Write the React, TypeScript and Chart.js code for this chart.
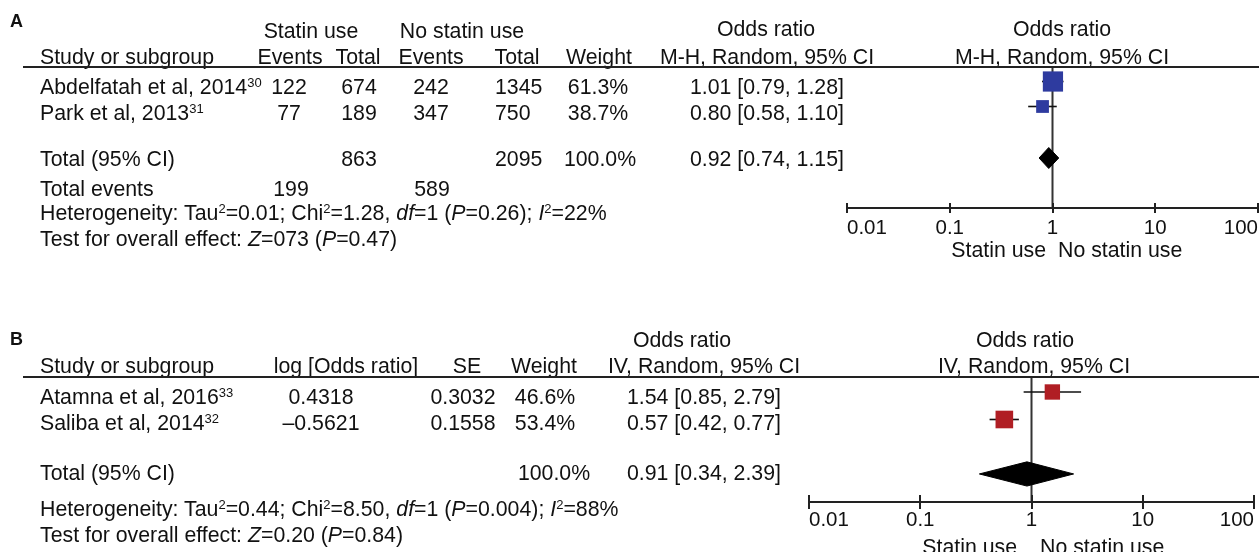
import React, { useEffect, useRef } from "react";
import { Chart, registerables } from "chart.js";

Chart.register(...registerables);

// ---------- Panel A data ----------
const studiesA = ["Abdelfatah et al, 2014", "Park et al, 2013"];
const refsA = ["30", "31"];
const statinEventsA = [122, 77];
const statinTotalA = [674, 189];
const noStatinEventsA = [242, 347];
const noStatinTotalA = [1345, 750];
const weightsA = [61.3, 38.7];
const oddsA = [1.01, 0.8];
const lowA = [0.79, 0.58];
const highA = [1.28, 1.1];
const totalA = [0.92, 0.74, 1.15]; // OR, lower, upper
const totalCountsA = [863, 2095];
const totalEventsA = [199, 589];
const totalWeightA = 100.0;

// ---------- Panel B data ----------
const studiesB = ["Atamna et al, 2016", "Saliba et al, 2014"];
const refsB = ["33", "32"];
const logOddsB = ["0.4318", "\u20130.5621"];
const seB = ["0.3032", "0.1558"];
const weightsB = [46.6, 53.4];
const oddsB = [1.54, 0.57];
const lowB = [0.85, 0.42];
const highB = [2.79, 0.77];
const totalB = [0.91, 0.34, 2.39];
const totalWeightB = 100.0;

// ---------- axis ----------
const axisTicks = [0.01, 0.1, 1, 10, 100];
const tickLabels = ["0.01", "0.1", "1", "10", "100"];

const FONT = '"Liberation Sans", Arial, Helvetica, sans-serif';
const INK = "#111";
const FS = 21.3;

const fmtOR = (o: number, l: number, h: number) =>
  `${o.toFixed(2)} [${l.toFixed(2)}, ${h.toFixed(2)}]`;
const fmtW = (w: number) => `${w.toFixed(1)}%`;

function T({ x, y, a = "l", children, size = FS, bold = false }: any) {
  const style: any = {
    position: "absolute",
    whiteSpace: "nowrap",
    fontFamily: FONT,
    fontSize: size,
    lineHeight: size + "px",
    color: INK,
    top: y - size * 0.49,
    fontWeight: bold ? "bold" : "normal",
  };
  if (a === "l") style.left = x;
  else if (a === "c") {
    style.left = x - 300;
    style.width = 600;
    style.textAlign = "center";
  } else {
    style.left = x - 600;
    style.width = 600;
    style.textAlign = "right";
  }
  return <div style={style}>{children}</div>;
}

const Sup = ({ children }: any) => (
  <span style={{ fontSize: 13, position: "relative", top: -7, lineHeight: "13px" }}>{children}</span>
);

const tickMarks = {
  id: "tickMarks",
  afterDatasetsDraw(chart: any, _args: any, opts: any) {
    const s = chart.scales.x;
    const ctx = chart.ctx;
    const y = s.top;
    ctx.save();
    ctx.strokeStyle = "#222";
    ctx.lineWidth = 2;
    s.ticks.forEach((t: any) => {
      const px = Math.round(s.getPixelForValue(t.value));
      ctx.beginPath();
      ctx.moveTo(px, y - opts.half);
      ctx.lineTo(px, y + opts.half);
      ctx.stroke();
    });
    ctx.restore();
  },
};

function Forest(p: any) {
  const ref = useRef<HTMLCanvasElement>(null);
  useEffect(() => {
    const W = 1320;
    const scaleH = 40;
    const datasets: any[] = [];
    datasets.push({
      data: p.odds.map((v: number, i: number) => ({ x: v, y: i })),
      pointStyle: "rect",
      pointRadius: p.weights.map((w: number) => (w * 0.33) / Math.SQRT2),
      pointBackgroundColor: p.color,
      backgroundColor: p.color,
      pointBorderWidth: 0,
      borderWidth: 0,
      showLine: false,
      order: 0,
    });
    p.odds.forEach((_: number, i: number) =>
      datasets.push({
        data: [
          { x: p.low[i], y: i },
          { x: p.high[i], y: i },
        ],
        showLine: true,
        borderColor: "#111",
        borderWidth: 1.6,
        pointRadius: 0,
        order: 2,
      })
    );
    datasets.push({
      data: [
        { x: 1, y: p.yMin },
        { x: 1, y: p.yMax },
      ],
      showLine: true,
      borderColor: "#333",
      borderWidth: 2,
      pointRadius: 0,
      order: 3,
    });
    const t = p.total;
    const tp = p.totalPos;
    const dh = p.diamondHalf;
    datasets.push({
      data: [
        { x: t[1], y: tp },
        { x: t[0], y: tp - dh },
        { x: t[2], y: tp },
        { x: t[0], y: tp + dh },
        { x: t[1], y: tp },
      ],
      showLine: true,
      fill: "shape",
      backgroundColor: "#000",
      borderColor: "#000",
      borderWidth: 1,
      pointRadius: 0,
      order: 1,
    });

    const chart = new Chart(ref.current as HTMLCanvasElement, {
      type: "scatter",
      data: { datasets },
      options: {
        animation: false,
        responsive: false,
        events: [],
        layout: {
          padding: {
            left: p.left,
            right: W - p.right,
            top: p.areaTop - p.top,
            bottom: p.height - (p.axisY - p.top) - scaleH,
          },
        },
        plugins: {
          legend: { display: false },
          tooltip: { enabled: false },
          tickMarks: { half: p.tickHalf },
        } as any,
        scales: {
          x: {
            type: "logarithmic",
            min: axisTicks[0],
            max: axisTicks[axisTicks.length - 1],
            position: "bottom",
            afterBuildTicks: (s: any) => {
              s.ticks = axisTicks.map((v) => ({ value: v }));
            },
            afterFit: (s: any) => {
              s.height = scaleH;
            },
            grid: { display: false, drawTicks: false },
            border: { display: true, color: "#222", width: 2 },
            ticks: {
              align: "inner",
              padding: p.tickPad,
              color: INK,
              autoSkip: false,
              maxRotation: 0,
              font: { family: FONT, size: 20.5 },
              callback: (v: any) => tickLabels[axisTicks.indexOf(Number(v))],
            },
          } as any,
          y: { type: "linear", display: false, reverse: true, min: p.yMin, max: p.yMax },
        },
      },
      plugins: [tickMarks],
    });
    return () => chart.destroy();
  }, []);
  return (
    <canvas
      ref={ref}
      width={1320}
      height={p.height}
      style={{ position: "absolute", left: 0, top: p.top, width: 1320, height: p.height, display: "block" }}
    />
  );
}

export default function App() {
  const line = (y: number) => (
    <div style={{ position: "absolute", left: 23, top: y, width: 1240, height: 2, background: "#222" }} />
  );
  const rowsA = [87, 113];
  const rowsB = [397, 423];
  return (
    <div
      style={{
        position: "absolute",
        left: 0,
        top: 0,
        width: 1259,
        height: 552,
        overflow: "hidden",
        background: "#fff",
        fontFamily: FONT,
      }}
    >
      <Forest
        top={0}
        height={280}
        left={847}
        right={1258}
        areaTop={67}
        axisY={208}
        yMin={-0.58}
        yMax={5.06}
        totalPos={3.06}
        diamondHalf={0.42}
        tickHalf={5}
        tickPad={8}
        color="#2e3b9f"
        odds={oddsA}
        low={lowA}
        high={highA}
        weights={weightsA}
        total={totalA}
      />
      <Forest
        top={290}
        height={262}
        left={809}
        right={1254}
        areaTop={377}
        axisY={502}
        yMin={-0.545}
        yMax={4.0}
        totalPos={2.98}
        diamondHalf={0.44}
        tickHalf={7}
        tickPad={6}
        color="#b01e24"
        odds={oddsB}
        low={lowB}
        high={highB}
        weights={weightsB}
        total={totalB}
      />

      {/* ---------------- Panel A ---------------- */}
      <T x={10} y={21} size={18} bold>A</T>
      <T x={311} y={31} a="c">Statin use</T>
      <T x={462} y={31} a="c">No statin use</T>
      <T x={766} y={29} a="c">Odds ratio</T>
      <T x={1062} y={29} a="c">Odds ratio</T>

      <T x={40} y={57}>Study or subgroup</T>
      <T x={290} y={57} a="c">Events</T>
      <T x={358} y={57} a="c">Total</T>
      <T x={431} y={57} a="c">Events</T>
      <T x={517} y={57} a="c">Total</T>
      <T x={599} y={57} a="c">Weight</T>
      <T x={767} y={57} a="c">M-H, Random, 95% CI</T>
      <T x={1062} y={57} a="c">M-H, Random, 95% CI</T>
      {line(66)}

      {studiesA.map((s, i) => (
        <React.Fragment key={s}>
          <T x={40} y={rowsA[i]}>
            {s}
            <Sup>{refsA[i]}</Sup>
          </T>
          <T x={289} y={rowsA[i]} a="c">{statinEventsA[i]}</T>
          <T x={359} y={rowsA[i]} a="c">{statinTotalA[i]}</T>
          <T x={431} y={rowsA[i]} a="c">{noStatinEventsA[i]}</T>
          <T x={495} y={rowsA[i]}>{noStatinTotalA[i]}</T>
          <T x={598} y={rowsA[i]} a="c">{fmtW(weightsA[i])}</T>
          <T x={690} y={rowsA[i]}>{fmtOR(oddsA[i], lowA[i], highA[i])}</T>
        </React.Fragment>
      ))}

      <T x={40} y={159}>Total (95% CI)</T>
      <T x={359} y={159} a="c">{totalCountsA[0]}</T>
      <T x={495} y={159}>{totalCountsA[1]}</T>
      <T x={600} y={159} a="c">{fmtW(totalWeightA)}</T>
      <T x={690} y={159}>{fmtOR(totalA[0], totalA[1], totalA[2])}</T>

      <T x={40} y={189}>Total events</T>
      <T x={291} y={189} a="c">{totalEventsA[0]}</T>
      <T x={432} y={189} a="c">{totalEventsA[1]}</T>

      <T x={40} y={213}>
        Heterogeneity: Tau<Sup>2</Sup>=0.01; Chi<Sup>2</Sup>=1.28, <i>df</i>=1 (<i>P</i>=0.26); <i>I</i>
        <Sup>2</Sup>=22%
      </T>
      <T x={40} y={239}>
        Test for overall effect: <i>Z</i>=073 (<i>P</i>=0.47)
      </T>

      <T x={1046} y={250} a="r">Statin use</T>
      <T x={1058} y={250}>No statin use</T>

      {/* ---------------- Panel B ---------------- */}
      <T x={10} y={339} size={18} bold>B</T>
      <T x={682} y={340} a="c">Odds ratio</T>
      <T x={1025} y={340} a="c">Odds ratio</T>

      <T x={40} y={366}>Study or subgroup</T>
      <T x={346} y={366} a="c">log [Odds ratio]</T>
      <T x={467} y={366} a="c">SE</T>
      <T x={544} y={366} a="c">Weight</T>
      <T x={704} y={366} a="c">IV, Random, 95% CI</T>
      <T x={1034} y={366} a="c">IV, Random, 95% CI</T>
      {line(376)}

      {studiesB.map((s, i) => (
        <React.Fragment key={s}>
          <T x={40} y={rowsB[i]}>
            {s}
            <Sup>{refsB[i]}</Sup>
          </T>
          <T x={321} y={rowsB[i]} a="c">{logOddsB[i]}</T>
          <T x={463} y={rowsB[i]} a="c">{seB[i]}</T>
          <T x={545} y={rowsB[i]} a="c">{fmtW(weightsB[i])}</T>
          <T x={627} y={rowsB[i]}>{fmtOR(oddsB[i], lowB[i], highB[i])}</T>
        </React.Fragment>
      ))}

      <T x={40} y={473}>Total (95% CI)</T>
      <T x={554} y={473} a="c">{fmtW(totalWeightB)}</T>
      <T x={627} y={473}>{fmtOR(totalB[0], totalB[1], totalB[2])}</T>

      <T x={40} y={509}>
        Heterogeneity: Tau<Sup>2</Sup>=0.44; Chi<Sup>2</Sup>=8.50, <i>df</i>=1 (<i>P</i>=0.004); <i>I</i>
        <Sup>2</Sup>=88%
      </T>
      <T x={40} y={535}>
        Test for overall effect: <i>Z</i>=0.20 (<i>P</i>=0.84)
      </T>

      <T x={1017} y={547} a="r">Statin use</T>
      <T x={1040} y={547}>No statin use</T>
    </div>
  );
}
